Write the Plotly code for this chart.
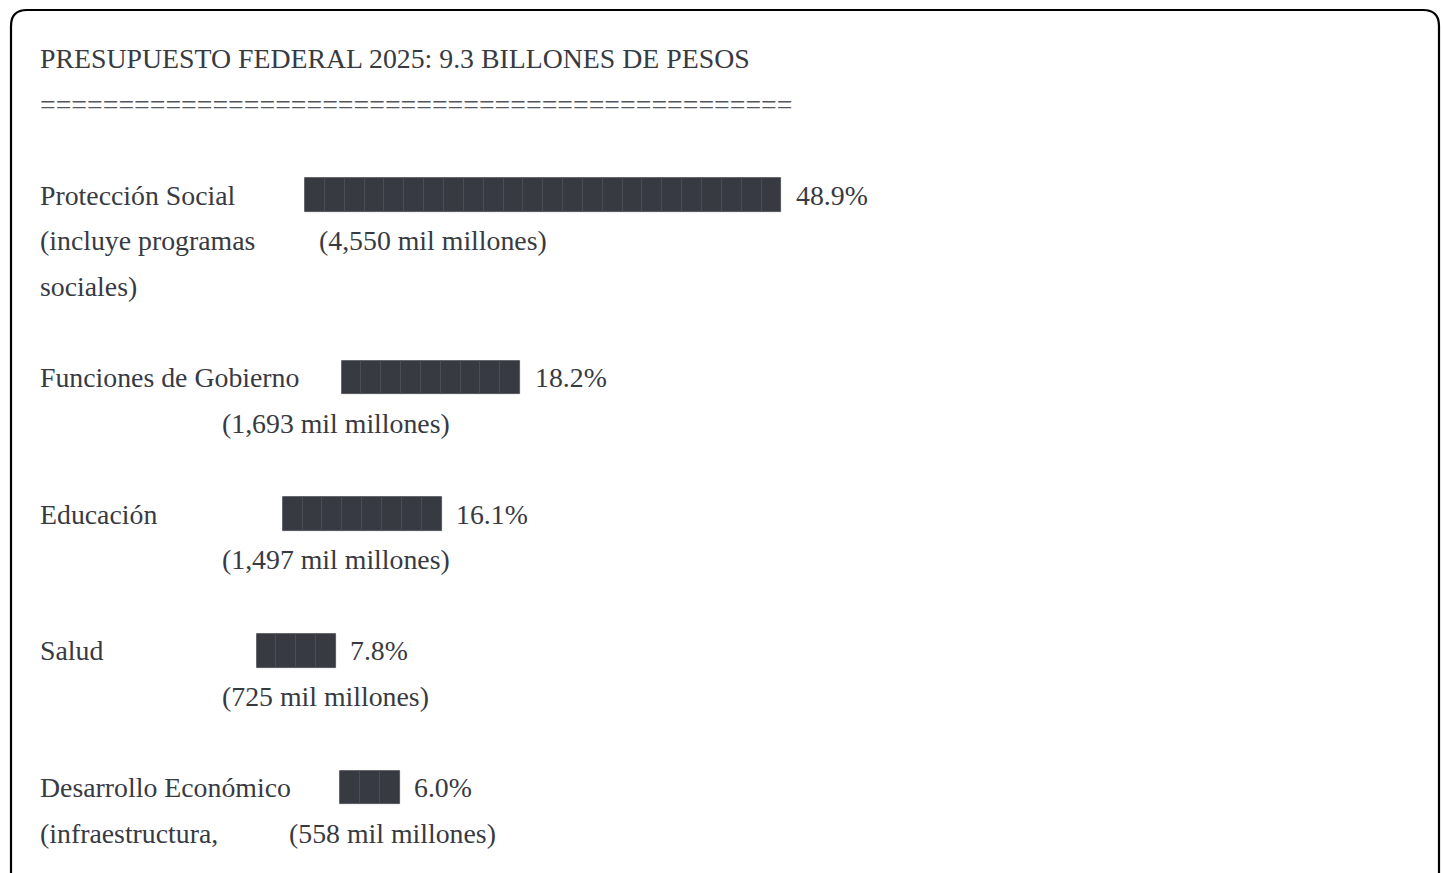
import plotly.graph_objects as go

# ---------------- data ----------------
title_text = "PRESUPUESTO FEDERAL 2025: 9.3 BILLONES DE PESOS"
categories = ["Protección Social", "Funciones de Gobierno", "Educación", "Salud", "Desarrollo Económico"]
label_extra_lines = [["(incluye programas", "sociales)"], [], [], [], ["(infraestructura,"]]
percentages = [48.9, 18.2, 16.1, 7.8, 6.0]
amounts_mil_millones = [4550, 1693, 1497, 725, 558]

# ---------------- layout / style ----------------
W, H = 1442, 873
FONT = "Liberation Serif"
FS = 27.8
TXT = "#383a42"
PAD = 2             # annotation inner padding to compensate
LEFT = 40
TOP = 58.5          # center of first text line
LINE_H = 45.57      # line height
BLOCK_W = 19.85     # width of one bar block (= 2 %)
BAR_H = 33.5
PCT_GAP = 14.5
row_line = [3, 7, 10, 13, 16]                  # text line index of each category
bar_start = [305, 341.5, 282.7, 256.5, 340]    # x where each bar begins
amount_x = [318.5, 221.5, 221.5, 221.5, 289]   # x of the amount text

def line_y(i):
    return TOP + LINE_H * i

blocks = [round(p / 2) for p in percentages]

fig = go.Figure()

# bars, drawn block by block
ys, xs, bases = [], [], []
for i, n in enumerate(blocks):
    for k in range(n):
        ys.append(line_y(row_line[i]))
        xs.append(BLOCK_W)
        bases.append(bar_start[i] + k * BLOCK_W)
fig.add_trace(go.Bar(
    orientation="h", y=ys, x=xs, base=bases, width=BAR_H,
    marker=dict(color="#383a42", line=dict(color="#4a4c53", width=0.8)),
    hoverinfo="skip", showlegend=False,
))

ann = []
def add_text(x, y, s, color=TXT):
    ann.append(dict(x=x - PAD, y=y, xref="x", yref="y", text=s, showarrow=False,
                    xanchor="left", yanchor="middle",
                    font=dict(family=FONT, size=FS, color=color)))

add_text(LEFT, line_y(0), title_text)
add_text(LEFT, line_y(1), "=" * 48, color="#55575e")
for i, cat in enumerate(categories):
    r = row_line[i]
    add_text(LEFT, line_y(r), cat)
    for j, extra in enumerate(label_extra_lines[i]):
        add_text(LEFT, line_y(r + 1 + j), extra)
    bar_end = bar_start[i] + blocks[i] * BLOCK_W
    add_text(bar_end + PCT_GAP, line_y(r), f"{percentages[i]:.1f}%")
    add_text(amount_x[i], line_y(r + 1), f"({amounts_mil_millones[i]:,} mil millones)")

# rounded frame
R = 16
frame = (f"M 11,{H+20} L 11,{10+R} Q 11,10 {11+R},10 L {1439-R},10 "
         f"Q 1439,10 1439,{10+R} L 1439,{H+20}")
shapes = [dict(type="path", path=frame, xref="x", yref="y",
               line=dict(color="#000000", width=2.2), layer="above")]

fig.update_layout(
    width=W, height=H,
    margin=dict(l=0, r=0, t=0, b=0),
    paper_bgcolor="white", plot_bgcolor="white",
    xaxis=dict(range=[0, W], visible=False, fixedrange=True),
    yaxis=dict(range=[H, 0], visible=False, fixedrange=True),
    annotations=ann, shapes=shapes, bargap=0,
    showlegend=False,
)

fig.write_html(
    "out.html",
    config={"displayModeBar": False},
    post_script="document.body.style.margin='0';document.body.style.overflow='hidden';",
)
